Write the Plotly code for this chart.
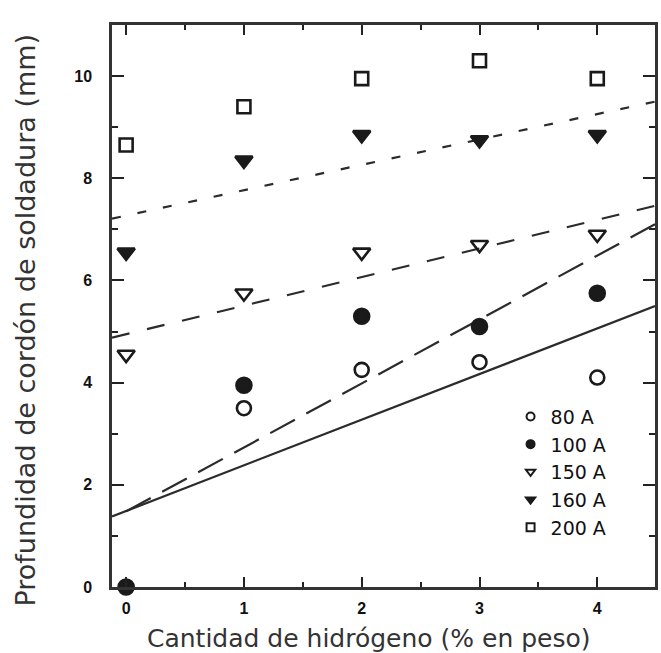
import plotly.graph_objects as go

# Data
hydrogen = [0, 1, 2, 3, 4]
depth_80A = [0.0, 3.5, 4.25, 4.4, 4.1]
depth_100A = [0.0, 3.95, 5.3, 5.1, 5.75]
depth_150A = [4.55, 5.75, 6.55, 6.7, 6.9]
depth_160A = [6.55, 8.35, 8.85, 8.75, 8.85]
depth_200A = [8.65, 9.4, 9.95, 10.3, 9.95]

series_names = ["80 A", "100 A", "150 A", "160 A", "200 A"]

# Fitted trend lines (end points)
fit_80A_x = [-0.12, 4.49]
fit_80A_y = [1.38, 5.5]
fit_100A_x = [0.0, 4.49]
fit_100A_y = [1.48, 7.1]
fit_150A_x = [-0.12, 4.49]
fit_150A_y = [4.88, 7.46]
fit_160A_x = [-0.12, 4.49]
fit_160A_y = [7.21, 9.5]

x_ticks = [0, 1, 2, 3, 4]
y_ticks = [0, 2, 4, 6, 8, 10]

INK = "#1a1a1a"
LINE = "#2b2b2b"

fig = go.Figure()

# Trend lines
line_specs = [
    (fit_80A_x, fit_80A_y, "solid"),
    (fit_100A_x, fit_100A_y, "28px,13px"),
    (fit_150A_x, fit_150A_y, "18px,18px"),
    (fit_160A_x, fit_160A_y, "9px,17px"),
]
for lx, ly, dash in line_specs:
    fig.add_trace(go.Scatter(x=lx, y=ly, mode="lines",
                             line=dict(color=LINE, width=2.2, dash=dash),
                             showlegend=False, hoverinfo="skip"))

# Data markers
marker_specs = [
    (depth_80A, "circle-open", 14),
    (depth_100A, "circle", 15),
    (depth_150A, "triangle-down-open", 15),
    (depth_160A, "triangle-down", 15),
    (depth_200A, "square-open", 13),
]
for (vals, sym, size), name in zip(marker_specs, series_names):
    fig.add_trace(go.Scatter(x=hydrogen, y=vals, mode="markers", name=name,
                             marker=dict(symbol=sym, size=size, color=INK,
                                         line=dict(color=INK, width=2.6)),
                             cliponaxis=False, showlegend=False))

# Legend entries (small symbols like the reference)
for (vals, sym, size), name in zip(marker_specs, series_names):
    fig.add_trace(go.Scatter(x=[None], y=[None], mode="markers", name=name,
                             marker=dict(symbol=sym, size=8, color=INK,
                                         line=dict(color=INK, width=2)),
                             showlegend=True))

axis_common = dict(
    showline=True, linecolor="#333333", linewidth=2.5, mirror="allticks",
    ticks="inside", tickcolor="#222222", tickwidth=2,
    showgrid=False, zeroline=False,
    tickfont=dict(family="Liberation Sans", size=16, color="#111111", weight="bold"),
)

fig.update_xaxes(range=[-0.12, 4.49], tickvals=x_ticks, ticklen=10,
                 minor=dict(dtick=0.5, tick0=0, ticks="inside", ticklen=5,
                            tickcolor="#222222", tickwidth=2),
                 ticklabelstandoff=5, **axis_common)
fig.update_yaxes(range=[0, 11], tickvals=y_ticks, ticklen=12,
                 minor=dict(dtick=1, tick0=0, ticks="inside", ticklen=6,
                            tickcolor="#222222", tickwidth=2),
                 ticklabelstandoff=14, **axis_common)

fig.add_annotation(text="Cantidad de hidrógeno (% en peso)", xref="paper", yref="paper",
                   x=(370 - 112) / 546, y=-(638 - 587) / 562, xanchor="center", yanchor="middle",
                   showarrow=False, font=dict(family="DejaVu Sans", size=25, color="#333333"))
fig.add_annotation(text="Profundidad de cordón de soldadura (mm)", xref="paper", yref="paper",
                   x=-(112 - 25) / 546, y=(587 - 320) / 562, xanchor="center", yanchor="middle",
                   textangle=-90, showarrow=False,
                   font=dict(family="DejaVu Sans", size=27, color="#333333"))

fig.update_layout(
    width=661, height=653,
    margin=dict(l=112, r=3, t=25, b=66),
    paper_bgcolor="white", plot_bgcolor="white",
    showlegend=True,
    legend=dict(x=0.734, y=0.337, xanchor="left", yanchor="top",
                bgcolor="rgba(0,0,0,0)", borderwidth=0,
                font=dict(family="DejaVu Sans", size=19, color="#111111"),
                itemsizing="trace"),
)

fig.write_html("out.html")
